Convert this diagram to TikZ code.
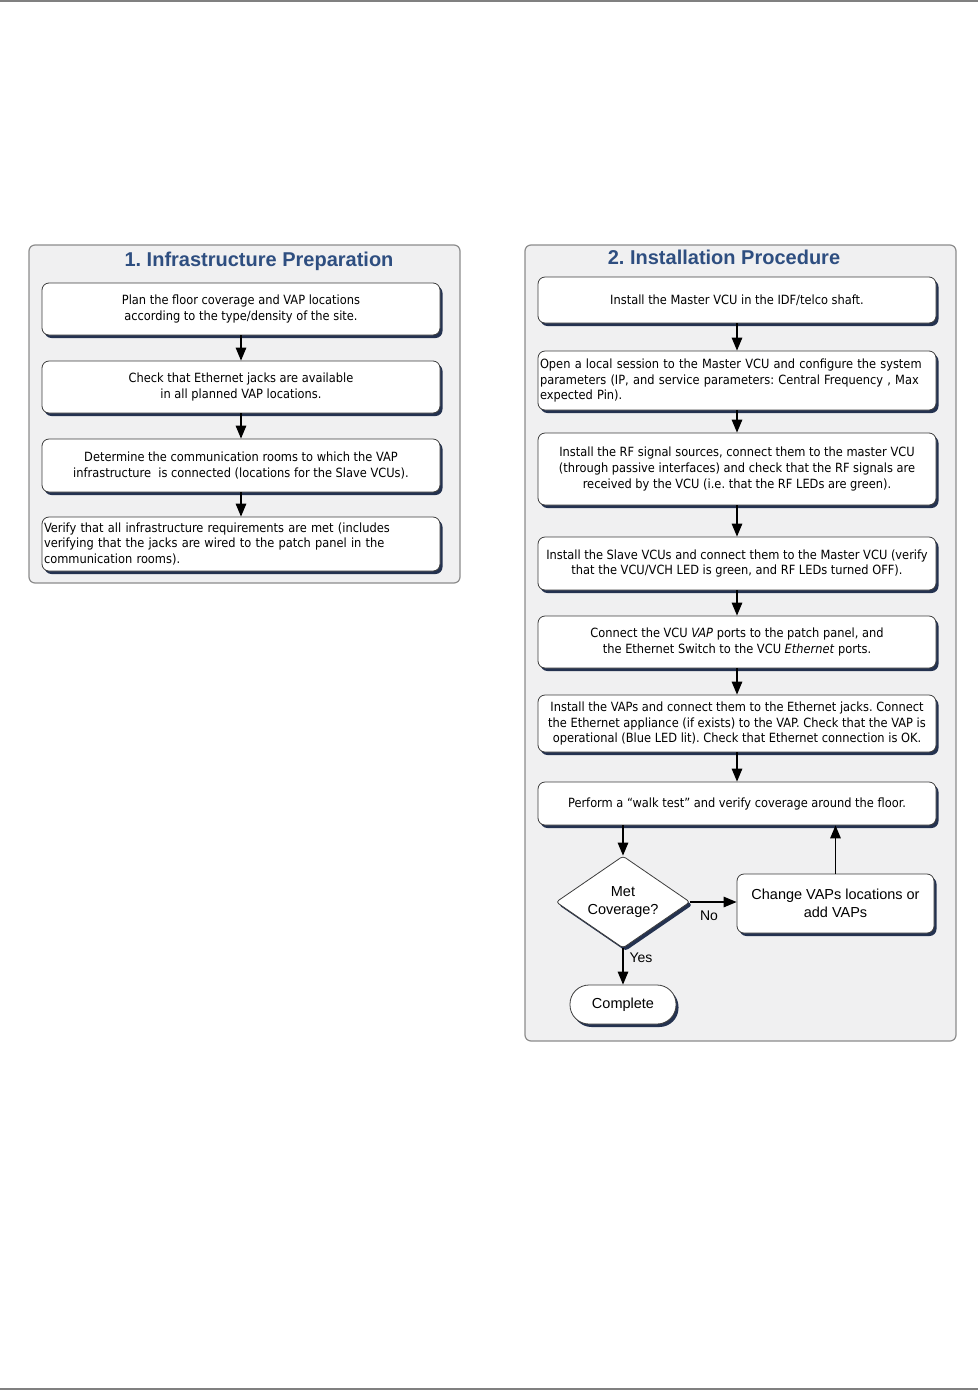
\documentclass[tikz,border=0pt]{standalone}
\usepackage{fontspec}
\setmainfont{Liberation Sans}
\IfFontExistsTF{DejaVu Sans Condensed}{\newfontfamily\bodyfont{DejaVu Sans Condensed}}{\newfontfamily\bodyfont{Liberation Sans}}
\usetikzlibrary{arrows.meta,shapes.geometric,shadows}
\definecolor{panelfill}{RGB}{240,240,241}
\definecolor{panelline}{RGB}{140,140,140}
\definecolor{boxline}{RGB}{60,60,60}
\definecolor{shadowblue}{RGB}{36,50,80}
\definecolor{titleblue}{RGB}{46,78,128}
\begin{document}
\frenchspacing
\begin{tikzpicture}[x=1pt,y=-1pt,
  panel/.style={draw=panelline,fill=panelfill,rounded corners=6pt,line width=1.2pt},
  box/.style={draw=boxline,fill=white,rounded corners=7pt,line width=0.8pt,
    drop shadow={shadow xshift=2.5pt,shadow yshift=-3pt,fill=shadowblue,opacity=1},
    font=\bodyfont\fontsize{12.7}{15.7}\selectfont,inner sep=1pt,align=center},
  lbox/.style={box,align=left,text width=394pt,inner xsep=2pt},
  abox/.style={box,font=\fontsize{14.5}{17.5}\selectfont},
  title/.style={font=\bfseries\fontsize{20}{23}\selectfont,text=titleblue},
  arr/.style={line width=1.4pt,-{Triangle[length=13pt,width=10.5pt]}},
  lab/.style={font=\fontsize{14}{16}\selectfont,inner sep=0pt}]
\useasboundingbox (0,0) rectangle (978,1390);
\draw[line width=2pt,gray] (0,1) -- (978,1);
\draw[line width=2pt,gray] (0,1388.5) -- (978,1388.5);
% panels
\draw[panel] (29,245) rectangle (460,583);
\draw[panel] (525,245) rectangle (956,1041);
\node[title] (t1) at (259,261) {1. Infrastructure Preparation};
\node[title] (t2) at (724,257) {2. Installation Procedure};
% left boxes
\node[box,minimum width=398pt,minimum height=52pt] (l1) at (241,309) {Plan the floor coverage and VAP locations\\according to the type/density of the site.};
\node[box,minimum width=398pt,minimum height=52pt] (l2) at (241,387) {Check that Ethernet jacks are available\\in all planned VAP locations.};
\node[box,minimum width=398pt,minimum height=53pt] (l3) at (241,465.5) {Determine the communication rooms to which the VAP\\infrastructure\ \ is connected (locations for the Slave VCUs).};
\node[lbox,minimum width=398pt,minimum height=54pt] (l4) at (241,544) {Verify that all infrastructure requirements are met (includes\\verifying that the jacks are wired to the patch panel in the\\communication rooms).};
\draw[arr] (l1) -- (l2);
\draw[arr] (l2) -- (l3);
\draw[arr] (l3) -- (l4);
% right boxes
\node[box,minimum width=398pt,minimum height=46pt] (ra) at (737,300) {Install the Master VCU in the IDF/telco shaft.};
\node[lbox,minimum width=398pt,minimum height=59pt] (rb) at (737,380.5) {Open a local session to the Master VCU and configure the system\\parameters (IP, and service parameters: Central Frequency , Max\\expected Pin).};
\node[box,minimum width=398pt,minimum height=72pt] (rc) at (737,469) {Install the RF signal sources, connect them to the master VCU\\(through passive interfaces) and check that the RF signals are\\received by the VCU (i.e. that the RF LEDs are green).};
\node[box,minimum width=398pt,minimum height=53pt] (rd) at (737,563.5) {Install the Slave VCUs and connect them to the Master VCU (verify\\that the VCU/VCH LED is green, and RF LEDs turned OFF).};
\node[box,minimum width=398pt,minimum height=52pt] (re) at (737,642) {Connect the VCU \textit{VAP} ports to the patch panel, and\\the Ethernet Switch to the VCU \textit{Ethernet} ports.};
\node[box,minimum width=398pt,minimum height=57pt] (rf) at (737,723.5) {Install the VAPs and connect them to the Ethernet jacks. Connect\\the Ethernet appliance (if exists) to the VAP. Check that the VAP is\\operational (Blue LED lit). Check that Ethernet connection is OK.};
\node[box,minimum width=398pt,minimum height=43pt] (rg) at (737,803.5) {Perform a “walk test” and verify coverage around the floor.};
\node[abox,diamond,rounded corners=3pt,minimum width=134pt,minimum height=92pt,aspect=1.46,inner sep=0pt] (dia) at (623,902) {Met\\Coverage?};
\node[abox,minimum width=197pt,minimum height=59pt] (chg) at (835.5,903.5) {Change VAPs locations or\\add VAPs};
\node[abox,rounded corners=19pt,minimum width=106pt,minimum height=39pt] (cmp) at (623,1004.5) {Complete};
\draw[arr] (ra) -- (rb);
\draw[arr] (rb) -- (rc);
\draw[arr] (rc) -- (rd);
\draw[arr] (rd) -- (re);
\draw[arr] (re) -- (rf);
\draw[arr] (rf) -- (rg);
\draw[arr] (dia.north |- rg.south) -- (dia.north);
\draw[arr] (dia.east) -- (dia.east -| chg.west);
\draw[arr] (chg.north) -- (chg.north |- rg.south);
\draw[arr] (dia.south) -- (cmp.north);
\node[lab] (no) at (709,916) {No};
\node[lab] (yes) at (641,958) {Yes};
\end{tikzpicture}
\end{document}
